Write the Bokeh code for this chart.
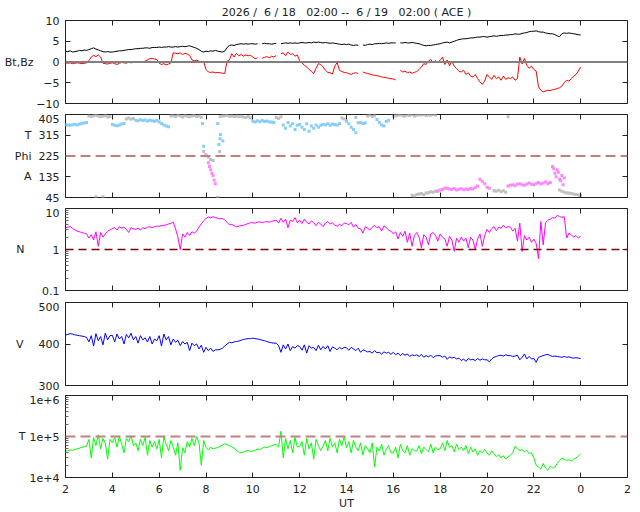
from bokeh.plotting import figure
from bokeh.models import Range1d, LinearAxis, LogAxis, FixedTicker, Span, Grid
from bokeh.layouts import column
from bokeh.embed import file_html
from bokeh.resources import INLINE

nan = float("nan")
NB = "\u00a0"

# sampling times (hours UT from 6/18 02:00), 0.1 h step
hours = [round(2.0 + 0.1 * i, 2) for i in range(221)]

title_text = ("2026 /" + NB * 2 + "6 / 18" + NB * 3 + "02:00 --" + NB * 2 + "6 / 19" + NB * 3
              + "02:00 ( ACE )")
x_tick_vals = [2, 4, 6, 8, 10, 12, 14, 16, 18, 20, 22, 24, 26]
x_tick_text = ["2", "4", "6", "8", "10", "12", "14", "16", "18", "20", "22", "0", "2"]

bt = [
    2.6, 2.5, 2.7, 2.4, 2.5, 2.6, 2.8, 2.7, 2.9, 2.8,
    3.0, 3.2, 3.4, 3.1, 2.9, 2.7, 2.5, 2.4, 2.5, 2.4,
    2.4, 2.5, 2.6, 2.7, 2.7, 2.8, 2.9, 3.0, 3.0, 3.1,
    3.2, 3.2, 3.3, 3.3, 3.4, 3.4, 3.3, 3.5, 3.5, 3.5,
    3.6, 3.5, 3.6, 3.6, 3.7, 3.6, 3.6, 3.7, 3.6, 3.7,
    3.8, 3.7, 3.8, 3.9, 3.7, 3.5, 3.3, 3.0, 2.6, 2.4,
    2.6, 2.5, 2.7, 2.6, 2.8, 2.6, 2.5, 2.4, 2.6, 3.5,
    4.0, 4.1, 4.0, 4.2, 4.3, 4.4, 4.3, 4.4, 4.3, 4.4,
    4.4, 4.3, 4.4, nan, 4.4, 4.5, 4.4, 4.4, 4.3, 4.4,
    4.5, nan, 4.4, 4.5, 4.6, 4.5, 4.6, 4.5, 4.6, 4.5,
    4.6, 4.7, 4.6, 4.6, 4.7, 4.6, 4.8, 4.7, 4.8, 4.7,
    4.6, 4.7, 4.6, 4.5, 4.6, 4.5, 4.4, 4.3, 4.2, 4.3,
    4.2, 4.3, 4.1, 4.0, 4.1, 4.0, nan, 4.1, 4.0, 4.2,
    4.3, 4.2, 4.4, 4.4, 4.5, 4.4, 4.5, 4.6, 4.5, 4.6,
    4.6, 4.6, nan, 4.6, 4.6, 4.7, 4.6, 4.6, 4.7, 4.6,
    4.5, 4.4, 4.2, 4.0, 3.9, 4.0, 4.0, 4.1, 4.2, 4.3,
    4.4, 4.6, 4.7, 4.8, 4.6, 4.8, 5.0, 5.2, 5.4, 5.5,
    5.6, 5.6, 5.7, 5.8, 5.8, 5.9, 6.0, 6.0, 6.1, 6.1,
    6.0, 6.1, 6.2, 6.3, 6.2, 6.3, 6.4, 6.4, 6.5, 6.5,
    6.6, 6.6, 6.8, 6.7, 6.7, 6.9, 7.0, 7.1, 7.3, 7.4,
    7.4, 7.5, 7.3, 7.2, 7.2, 7.0, 6.9, 6.8, 6.8, 6.6,
    6.3, 6.1, 6.8, 7.0, 6.9, 7.0, 6.9, 6.8, 6.7, 6.6,
    6.5,
]

bz = [
    -0.2, -0.3, -0.2, -0.4, -0.3, -0.2, -0.3, -0.4, -0.3, -0.2,
    0.3, 1.2, 1.6, 1.3, 1.7, 1.2, -0.3, -0.4, -0.5, -0.3,
    -0.2, -0.4, -0.6, -0.3, -0.1, -0.2, -0.3, 0.0, -0.2, -0.1,
    0.0, -0.1, 0.1, 0.0, 0.2, 0.5, 0.8, 0.9, 0.7, 0.6,
    -0.3, -0.6, -0.4, -0.7, -0.5, -0.2, 2.2, 2.1, 2.0, 2.2,
    1.8, 2.1, 1.9, 1.6, 0.5, 0.3, 0.4, 0.2, -0.1, 0.1,
    -1.8, -2.4, -2.5, -2.4, -2.6, -2.5, -2.6, -2.7, -2.8, 0.2,
    0.5, 2.0, 1.2, 2.1, 1.5, 1.8, 1.4, 1.7, 1.5, 1.6,
    1.2, 0.8, 1.0, nan, 0.9, 1.1, 1.3, 1.0, 1.4, 1.2,
    1.6, nan, 2.0, 2.2, 1.5, 2.4, 1.8, 2.0, 1.4, 1.7,
    0.3, -0.2, -0.8, -1.2, -1.8, -2.2, -2.8, -1.5, -0.4, -0.6,
    -1.2, -2.0, -2.5, -2.6, -2.9, -1.0, -0.1, -2.0, -2.3, -2.5,
    -2.6, -2.8, -3.0, -2.7, -2.6, -2.8, nan, -2.4, -2.6, -2.8,
    -2.9, -3.1, -3.2, -3.3, -3.4, -3.6, -3.7, -3.8, -3.9, -4.0,
    -4.1, -4.3, nan, -2.0, -2.4, -2.2, -2.6, -2.4, -2.7, -2.5,
    -2.3, -1.8, -1.2, -0.4, -0.6, 0.2, 0.6, -0.2, 0.3, -0.1,
    0.4, 1.2, -0.6, 0.5, -0.9, 0.2, -1.0, -1.6, -2.2, -2.4,
    -2.0, -3.0, -2.6, -3.4, -3.6, -3.0, -4.0, -4.8, -5.4, -4.6,
    -3.0, -3.6, -4.2, -3.2, -4.0, -3.6, -4.4, -3.4, -4.2, -3.8,
    -4.0, -3.6, -4.4, -4.0, 1.2, -0.5, 0.9, -0.8, -1.5, -1.0,
    -1.8, -2.2, -6.0, -6.8, -7.2, -7.0, -6.8, -6.9, -6.7, -6.6,
    -6.4, -6.2, -5.8, -5.0, -4.4, -4.6, -4.0, -3.4, -3.0, -2.2,
    -1.2,
]

dens = [
    3.4, 3.5, 3.6, 3.3, 3.0, 2.8, 2.7, 2.6, 2.5, 2.4,
    1.9, 2.3, 1.7, 2.7, 1.2, 2.6, 2.0, 2.4, 2.8, 3.0,
    3.2, 3.4, 3.0, 3.6, 3.3, 3.5, 3.1, 2.6, 3.4, 3.2,
    3.1, 3.3, 3.0, 3.4, 3.2, 3.5, 3.6, 3.4, 3.6, 3.7,
    3.7, 3.8, 3.9, 4.0, 4.2, 4.3, 4.7, 3.2, 2.0, 1.0,
    2.4, 2.0, 2.6, 2.2, 2.7, 2.5, 2.8, 3.5, 4.2, 5.0,
    5.7, 6.2, 5.9, 6.3, 6.0, 5.8, 5.6, 5.7, 5.3, 4.6,
    4.0, 4.1, 3.8, 3.6, 3.7, 3.8, 3.9, 4.1, 4.3, 4.5,
    4.5, 4.4, 4.6, 4.7, 4.5, 4.7, 4.8, 4.6, 4.9, 5.0,
    5.2, 4.4, 5.8, 4.6, 5.5, 3.4, 5.2, 4.8, 6.0, 4.5,
    5.2, 4.3, 5.5, 4.6, 4.2, 5.0, 4.5, 3.8, 4.6, 4.2,
    3.6, 4.4, 4.8, 4.2, 4.5, 3.9, 3.7, 4.1, 3.8, 4.4,
    4.3, 4.0, 4.6, 3.5, 4.1, 3.3, 3.2, 2.5, 3.6, 3.3,
    3.0, 3.5, 3.9, 3.4, 3.6, 2.8, 3.8, 3.4, 3.0, 2.8,
    2.4, 2.7, 1.8, 2.6, 2.1, 2.8, 1.5, 2.5, 1.2, 2.2,
    2.6, 2.0, 1.1, 2.3, 2.0, 1.3, 2.4, 2.6, 2.2, 1.6,
    2.4, 2.0, 1.8, 1.2, 2.1, 1.7, 0.9, 1.9, 1.5, 2.0,
    1.6, 1.9, 1.1, 2.0, 1.7, 1.0, 1.8, 2.4, 1.2, 2.2,
    3.1, 2.6, 3.2, 3.6, 2.9, 3.5, 3.3, 3.9, 3.4, 3.6,
    3.5, 2.8, 3.3, 1.6, 4.4, 0.9, 2.2, 1.7, 2.0, 1.5,
    1.8, 1.4, 0.6, 4.8, 1.3, 4.5, 5.2, 5.5, 6.0, 5.8,
    6.8, 6.4, 6.1, 6.3, 1.9, 2.5, 2.3, 2.0, 2.2, 1.9,
    2.1,
]

speed = [
    422, 423, 425, 424, 422, 421, 420, 419, 418, 416,
    405, 420, 395, 425, 408, 418, 398, 426, 410, 420,
    421, 405, 424, 412, 418, 400, 423, 415, 426, 410,
    418, 402, 420, 410, 415, 405, 418, 400, 412, 408,
    420, 395, 424, 410, 418, 398, 412, 404, 409, 396,
    406, 400, 404, 384, 402, 396, 400, 388, 397, 380,
    392, 384, 390, 382, 386, 386, 387, 390, 395, 400,
    404, 403, 405, 406, 407, 409, 411, 412, 413, 413,
    414, 413, 412, 411, 409, 408, 406, 404, 403, 402,
    402, 396, 380, 398, 388, 400, 384, 394, 390, 396,
    394, 385, 398, 378, 396, 390, 392, 384, 397, 386,
    394, 388, 396, 382, 393, 390, 386, 392, 388, 392,
    391, 385, 392, 388, 384, 390, 380, 386, 384, 381,
    382, 378, 384, 379, 380, 376, 381, 378, 380, 375,
    380, 374, 378, 372, 377, 373, 376, 370, 374, 372,
    374, 370, 375, 368, 372, 369, 373, 367, 371, 372,
    372, 368, 371, 363, 369, 366, 368, 364, 366, 360,
    364, 358, 365, 362, 363, 360, 365, 361, 364, 362,
    362, 357, 364, 368, 370, 372, 373, 371, 374, 372,
    372, 370, 371, 373, 362, 368, 376, 364, 370, 364,
    365, 356, 368, 370, 372, 374, 375, 372, 370, 371,
    370, 369, 368, 370, 368, 369, 367, 366, 367, 366,
    365,
]

temp = [
    44000, 45000, 47000, 46000, 48000, 50000, 52000, 55000, 56000, 58000,
    85000, 30000, 95000, 60000, 110000, 50000, 90000, 70000, 28000, 85000,
    70000, 95000, 55000, 100000, 65000, 40000, 90000, 75000, 105000, 60000,
    70000, 45000, 85000, 60000, 95000, 35000, 80000, 55000, 75000, 50000,
    85000, 30000, 100000, 65000, 45000, 80000, 55000, 35000, 70000, 15000,
    53000, 40000, 75000, 55000, 90000, 60000, 100000, 70000, 20000, 80000,
    53000, 48000, 55000, 50000, 52000, 54000, 58000, 62000, 66000, 64000,
    60000, 56000, 52000, 46000, 42000, 40000, 42000, 44000, 46000, 43000,
    44000, 46000, 50000, 48000, 52000, 55000, 54000, 56000, 60000, 62000,
    64000, 55000, 135000, 30000, 90000, 50000, 80000, 40000, 95000, 55000,
    58000, 75000, 35000, 90000, 50000, 70000, 28000, 85000, 60000, 45000,
    58000, 80000, 45000, 90000, 55000, 70000, 40000, 85000, 60000, 100000,
    53000, 75000, 40000, 80000, 55000, 45000, 70000, 35000, 60000, 50000,
    40000, 70000, 18000, 55000, 45000, 65000, 35000, 50000, 60000, 40000,
    40000, 55000, 30000, 65000, 45000, 40000, 60000, 35000, 50000, 45000,
    44000, 60000, 38000, 55000, 48000, 42000, 65000, 40000, 55000, 48000,
    50000, 70000, 45000, 80000, 55000, 60000, 42000, 65000, 48000, 55000,
    45000, 60000, 38000, 55000, 42000, 50000, 35000, 45000, 40000, 48000,
    40000, 35000, 45000, 38000, 32000, 36000, 30000, 34000, 28000, 32000,
    35000, 40000, 58000, 50000, 45000, 48000, 42000, 46000, 38000, 40000,
    30000, 20000, 18000, 16000, 22000, 17000, 15000, 19000, 17000, 18000,
    22000, 26000, 30000, 28000, 26000, 27000, 25000, 28000, 30000, 33000,
    38000,
]

# Phi (deg): (start hour, values at 0.1 h steps)
phi_blue = [
    (2.0, [362, 360, 358, 361, 363, 360, 364, 366, 368, 370]),
    (4.0, [362, 358, 356, 360, 364, 366]),
    (5.0, [380, 378, 382, 379, 381, 377, 380, 378, 376, 379]),
    (6.0, [372, 366, 360, 355, 352]),
    (7.85, [366]), (7.9, [267]),
    (8.5, [366, 300]), (8.55, [275]), (8.62, [318, 290]),
    (10.0, [376, 372, 378, 374, 379, 375, 377, 373, 372, 370]),
    (11.3, [360, 345, 370, 355, 365, 340, 358]),
    (12.0, [362, 350, 340, 365, 332, 355, 345, 360, 350, 358]),
    (13.0, [362, 360, 365, 358, 364, 361, 360, 366]),
    (14.0, [376, 365, 350, 340, 326]),
    (14.5, [369, 370, 366, 368]),
    (15.3, [383, 370, 360, 355, 375, 380]),
]
phi_gray = [
    (3.0, [398, 396, 400, 402, 398, 395, 397, 400, 394, 396]),
    (3.3, [48]), (3.6, [48]),
    (4.6, [386, 390, 384, 388]),
    (6.5, [398, 400, 396, 402, 398, 394, 400, 397, 395, 399, 401, 396, 398, 393]),
    (7.9, [245, 232, 220, 210, 205]),
    (8.5, [45]), (8.58, [245]),
    (8.6, [395, 398, 400, 402, 397, 399, 396, 398, 395, 397, 394, 392, 396, 390]),
    (11.0, [392, 388, 395]),
    (13.8, [390, 386]),
    (14.4, [392]),
    (14.9, [398, 402, 396, 400]),
    (16.0, [398, 400, 402, 404, 400, 398, 403, 401, 405, 399, 402, 404, 403, 405, 401, 404, 402, 405, 403]),
    (16.8, [55, 52, 58, 60, 62, 57, 64, 66, 70, 68, 72, 74]),
    (20.3, [74, 72, 76, 70, 74, 68]),
    (20.9, [395]),
    (23.1, [78, 72, 68, 65, 64, 62, 60, 58, 56, 55]),
]
phi_pink = [
    (8.1, [196, 165, 140, 105]),
    (8.15, [180, 150, 120]),
    (17.9, [72, 78, 80, 85]),
    (18.3, [85, 82, 80, 84, 78, 81, 83, 79, 82, 80, 84, 82, 88, 95]),
    (19.7, [124, 115, 105, 90, 85]),
    (20.9, [95, 98, 100, 96, 102, 105, 100, 98, 104, 108, 102, 100, 106, 110, 104, 108, 112, 105, 110]),
    (22.8, [180, 150, 165, 124, 140, 130]),
    (22.85, [170, 135, 155, 118, 100]),
]

FONT = "DejaVu Sans"
TXT = "#222222"
xr = Range1d(2, 26)


def expand(segs):
    xs, ys = [], []
    for start, vals in segs:
        for k, v in enumerate(vals):
            xs.append(start + 0.1 * k)
            ys.append(v)
    return xs, ys


def style(ax, labels, standoff=6):
    ax.axis_line_color = None
    ax.major_tick_in = 5
    ax.major_tick_out = 0
    ax.minor_tick_in = 3
    ax.minor_tick_out = 0
    ax.major_tick_line_color = TXT
    ax.minor_tick_line_color = "#666666"
    ax.major_label_text_font = FONT
    if labels:
        ax.major_label_text_font_size = "11px"
        ax.major_label_text_color = TXT
        ax.major_label_standoff = standoff
    else:
        ax.major_label_text_font_size = "0px"
        ax.major_label_text_color = None
        ax.major_label_standoff = 0


def text_axis(cls, ticks, names, standoff):
    ax = cls(ticker=FixedTicker(ticks=ticks, minor_ticks=[]))
    ax.major_label_overrides = dict(zip(ticks, names))
    style(ax, True, standoff)
    ax.major_tick_in = 0
    ax.minor_tick_in = 0
    ax.major_tick_line_color = None
    return ax


def panel(yr, log, frame_h, top, bottom, yticks, side_ticks, side_names, side_standoff,
          ylabels=None, yminor=None, xlabels=False):
    p = figure(width=632, height=top + frame_h + bottom, x_range=xr, y_range=yr,
               x_axis_location=None, y_axis_location=None,
               y_axis_type="log" if log else "linear",
               output_backend="svg", toolbar_location=None,
               min_border_left=65, min_border_right=5,
               min_border_top=top, min_border_bottom=bottom)
    for g in p.select(type=Grid):
        g.visible = False
    p.outline_line_color = TXT
    p.outline_line_width = 1
    p.background_fill_color = "white"
    p.border_fill_color = "white"
    AX = LogAxis if log else LinearAxis
    left = AX(ticker=FixedTicker(ticks=yticks, minor_ticks=yminor or []))
    if ylabels:
        left.major_label_overrides = ylabels
    style(left, True)
    right = AX(ticker=FixedTicker(ticks=yticks, minor_ticks=[]))
    style(right, False)
    below = LinearAxis(ticker=FixedTicker(ticks=x_tick_vals))
    below.major_label_overrides = dict(zip(x_tick_vals, x_tick_text))
    style(below, xlabels, 7)
    above = LinearAxis(ticker=FixedTicker(ticks=x_tick_vals))
    style(above, False)
    p.add_layout(left, "left")
    p.add_layout(text_axis(AX, side_ticks, side_names, side_standoff), "left")
    p.add_layout(right, "right")
    p.add_layout(below, "below")
    p.add_layout(above, "above")
    return p


# Panel 1: Bt, Bz
p1 = panel(Range1d(-10, 10), False, 83, 20, 11, [-10, -5, 0, 5, 10], [0], ["Bt,Bz"], 0)
p1.add_layout(Span(location=0, dimension="width", line_color="#808080", line_width=2))
p1.line(hours, bt, line_color="black", line_width=1)
p1.line(hours, bz, line_color="#ff0000", line_width=1)
p1.add_layout(text_axis(LinearAxis, [14], [title_text], 2), "above")

# Panel 2: Phi
p2 = panel(Range1d(45, 405), False, 83, 0, 11, [45, 135, 225, 315, 405],
           [135, 225, 315], ["A", "Phi", "T"], 4)
p2.add_layout(Span(location=225, dimension="width", line_color="#c08080", line_width=2, line_dash="10 5"))
for segs, col in ((phi_gray, "#c0c0c0"), (phi_blue, "#87cefa"), (phi_pink, "#ff88ff")):
    xs, ys = expand(segs)
    p2.scatter(xs, ys, marker="square", size=3, fill_color=col, line_color=None)

# Panel 3: N
n_minor = [0.2, 0.3, 0.4, 0.5, 0.6, 0.7, 0.8, 0.9, 2, 3, 4, 5, 6, 7, 8, 9]
p3 = panel(Range1d(0.1, 10), True, 82, 0, 12, [0.1, 1, 10], [1], ["N"], 15,
           ylabels={0.1: "0.1", 1: "1", 10: "10"}, yminor=n_minor)
p3.add_layout(Span(location=1, dimension="width", line_color="#800000", line_width=1.3, line_dash="8 5"))
p3.line(hours, dens, line_color="#ff00ff", line_width=1)

# Panel 4: V
p4 = panel(Range1d(300, 500), False, 83, 0, 10, [300, 400, 500], [400], ["V"], 12)
p4.line(hours, speed, line_color="#0000ff", line_width=1)

# Panel 5: T
t_minor = [20000, 30000, 40000, 50000, 60000, 70000, 80000, 90000,
           200000, 300000, 400000, 500000, 600000, 700000, 800000, 900000]
p5 = panel(Range1d(1e4, 1e6), True, 83, 0, 34, [10000, 100000, 1000000], [100000], ["T"], 1,
           ylabels={10000: "1e+4", 100000: "1e+5", 1000000: "1e+6"}, yminor=t_minor, xlabels=True)
p5.add_layout(Span(location=1e5, dimension="width", line_color="#c08080", line_width=2, line_dash="10 5"))
p5.line(hours, temp, line_color="#00ff00", line_width=1)
p5.below[0].axis_label = "UT"
p5.below[0].axis_label_text_font = FONT
p5.below[0].axis_label_text_font_size = "11px"
p5.below[0].axis_label_text_font_style = "normal"
p5.below[0].axis_label_text_color = TXT
p5.below[0].axis_label_standoff = 1

layout = column(p1, p2, p3, p4, p5, spacing=0)
open("out.html", "w").write(file_html(layout, INLINE))
